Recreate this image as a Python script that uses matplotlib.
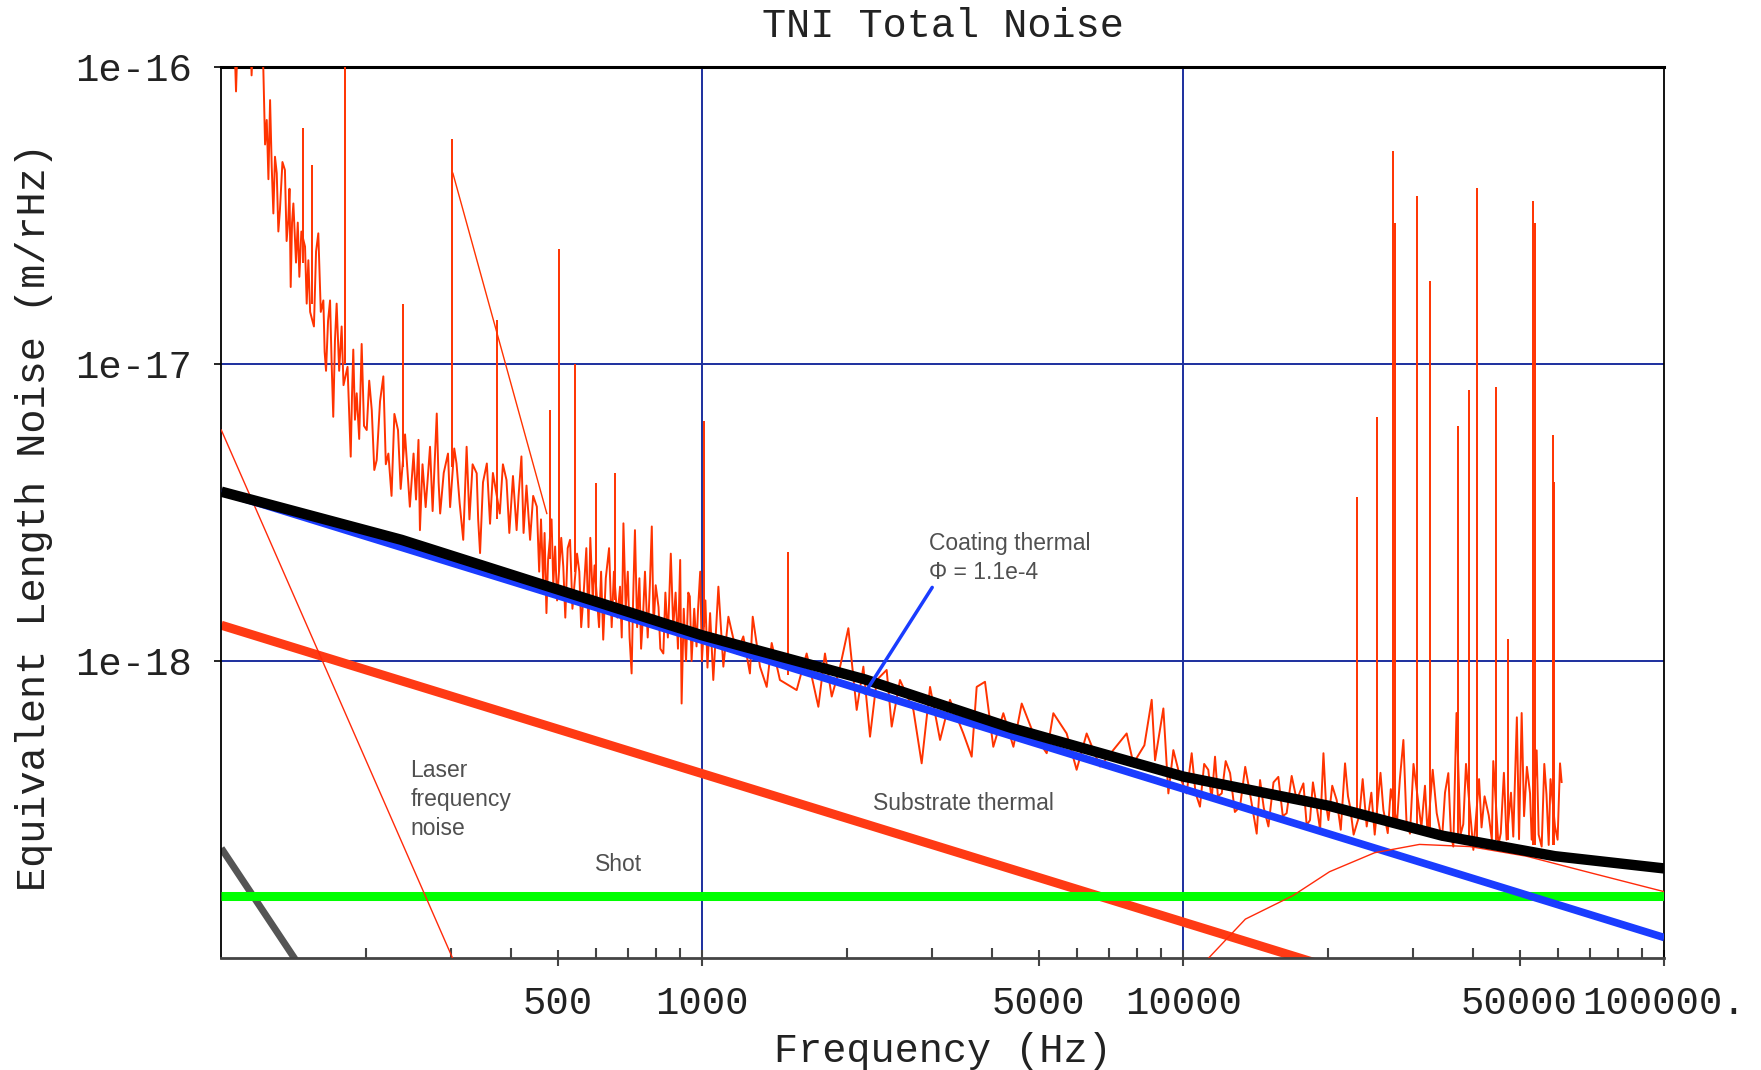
#!/usr/bin/env python

# import core packages
import matplotlib
matplotlib.use("Agg")
import matplotlib.pyplot as plt
from matplotlib.ticker import FixedLocator, FixedFormatter, NullFormatter, NullLocator

# measured spectrum, broadband part (Hz, m/rHz)
meas_freq = [106, 107.3, 108.5, 115, 115.6, 116.5, 121.3, 122.3, 123.3, 124.3,
             125.3, 126.3, 127.3, 128.3, 129.3, 130.4, 131.4, 132.4, 134, 135.6,
             136.7, 137.8, 138.6, 139.4, 140.3, 141.2, 143, 144.2, 145.3, 146.7,
             149.3, 150.5, 151.7, 153, 155.8, 157.4, 159.1, 161, 163.0, 164,
             165.1, 166.7, 168.3, 169.6, 170.9, 172.3, 173.7, 175.8, 177.9, 179.5,
             183, 185.8, 187, 188.1, 189.6, 191.2, 193.5, 195.8, 198, 200.6,
             203, 205.5, 208, 210.4, 213.8, 217.2, 219.8, 222.5, 225.9, 229,
             233, 236, 241, 246.6, 251, 254, 257, 258.8, 262, 266,
             271.6, 275, 280.5, 283, 285.1, 290, 296, 299, 305, 308.3,
             313, 318.4, 323.6, 328, 333, 339.6, 342, 345.1, 350, 356.5,
             362, 367, 379.3, 385, 391.7, 397, 404, 411.1, 415, 420.7,
             425, 431, 438.5, 445, 452.9, 458, 462, 466.7, 470, 474.2,
             478, 486, 490, 494.3, 499, 509, 514.0, 519, 525, 530.9,
             537, 549, 555, 560, 566.2, 574, 580, 585, 592, 597,
             610, 616, 622.3, 630, 640, 648, 655, 666, 674.5, 680,
             685.5, 693, 700, 706, 712.9, 718, 724.4, 732, 740, 746,
             753.4, 760, 770, 778, 785.2, 792, 800, 810.9, 818, 829.8,
             838, 848, 860, 870, 880, 890, 899.5, 905.7, 915, 925,
             935, 941.9, 950, 962, 972.8, 980, 990, 998, 1015, 1025,
             1038, 1054, 1080, 1106, 1133, 1179, 1217, 1256, 1273, 1318,
             1361, 1394, 1450, 1571, 1648, 1743, 1799, 1858, 1934, 2012,
             2094, 2162, 2232, 2305, 2417, 2476, 2576, 2747, 2858, 2975,
             3121, 3273, 3489, 3631, 3719, 3870, 4027, 4225, 4434, 4614,
             4878, 5200, 5368, 5721, 6001, 6296, 6711, 7625, 7873, 8300,
             8596, 8735, 9090, 9310, 9535, 9845, 10160, 10410, 10600, 10830,
             11050, 11270, 11450, 11640, 11800, 12020, 12250, 12510, 12800, 13120,
             13450, 13760, 14210, 14440, 14700, 15030, 15400, 15760, 16100, 16400,
             16800, 17210, 17770, 18050, 18340, 18600, 18940, 19250, 19560, 19800,
             20030, 20400, 20840, 21250, 21690, 22000, 22220, 22600, 23230, 23600,
             24060, 24600, 25000, 25700, 26060, 26610, 27000, 27800, 28200, 28680,
             29100, 29600, 30100, 31260, 31800, 32200, 33000, 33640, 34500, 35000,
             35560, 36000, 36420, 36980, 37700, 38200, 38700, 40090, 41200, 41690,
             42300, 43150, 43800, 44100, 45200, 45710, 46400, 47000, 48000, 48530,
             49370, 49890, 50520, 51100, 51800, 52590, 53000, 54280, 54800, 55600,
             56300, 56890, 57500, 58000, 59260, 60000, 60700, 61170]
meas_noise = [1.58e-16, 8.3e-17, 1.5e-16, 1.3e-16, 9.4e-17, 1.3e-16, 1.2e-16, 9.8e-17, 5.5e-17, 6.65e-17,
              4.2e-17, 7.76e-17, 4.62e-17, 3.22e-17, 5.0e-17, 4.40e-17, 2.8e-17, 3.31e-17, 4.8e-17, 4.51e-17,
              2.6e-17, 3.06e-17, 3.9e-17, 1.82e-17, 3.0e-17, 3.48e-17, 2.2e-17, 3.0e-17, 1.97e-17, 2.8e-17,
              2.49e-17, 1.6e-17, 2.24e-17, 1.5e-17, 1.34e-17, 2.4e-17, 2.76e-17, 1.5e-17, 1.64e-17, 1.1e-17,
              9.5e-18, 1.4e-17, 1.64e-17, 1.0e-17, 6.65e-18, 1.2e-17, 1.60e-17, 9.5e-18, 1.34e-17, 8.5e-18,
              9.8e-18, 4.88e-18, 8.0e-18, 1.12e-17, 6.5e-18, 7.98e-18, 5.6e-18, 1.17e-17, 6.2e-18, 6.0e-18,
              8.8e-18, 7.0e-18, 4.4e-18, 4.75e-18, 7.5e-18, 9.1e-18, 4.6e-18, 5.0e-18, 3.6e-18, 6.8e-18,
              6.0e-18, 3.8e-18, 5.8e-18, 3.31e-18, 5.0e-18, 3.5e-18, 5.56e-18, 2.76e-18, 4.6e-18, 3.3e-18,
              5.27e-18, 3.2e-18, 6.82e-18, 4.0e-18, 3.14e-18, 4.3e-18, 5.0e-18, 3.3e-18, 5.2e-18, 4.63e-18,
              3.4e-18, 2.56e-18, 5.27e-18, 3.0e-18, 4.6e-18, 4.29e-18, 3.0e-18, 2.31e-18, 4.0e-18, 4.63e-18,
              2.9e-18, 4.3e-18, 3.14e-18, 4.6e-18, 4.07e-18, 2.7e-18, 4.2e-18, 2.76e-18, 3.6e-18, 4.89e-18,
              2.7e-18, 3.9e-18, 2.56e-18, 3.6e-18, 3.31e-18, 2.0e-18, 3.0e-18, 1.87e-18, 2.7e-18, 1.45e-18,
              2.2e-18, 3.0e-18, 1.8e-18, 2.43e-18, 1.6e-18, 2.6e-18, 2.08e-18, 1.4e-18, 2.4e-18, 2.56e-18,
              1.5e-18, 2.3e-18, 2.0e-18, 1.3e-18, 1.65e-18, 2.4e-18, 1.3e-18, 2.6e-18, 1.6e-18, 2.1e-18,
              1.3e-18, 2.0e-18, 1.18e-18, 1.9e-18, 2.4e-18, 1.3e-18, 2.0e-18, 1.4e-18, 1.78e-18, 1.2e-18,
              2.91e-18, 1.5e-18, 2.0e-18, 1.2e-18, 9.08e-19, 1.6e-18, 2.76e-18, 1.3e-18, 1.9e-18, 1.1e-18,
              1.45e-18, 2.0e-18, 1.2e-18, 1.8e-18, 2.84e-18, 1.3e-18, 1.8e-18, 1.52e-18, 1.1e-18, 1.06e-18,
              1.7e-18, 1.2e-18, 2.3e-18, 1.3e-18, 1.7e-18, 1.1e-18, 2.19e-18, 7.19e-19, 1.5e-18, 1.0e-18,
              1.7e-18, 1.65e-18, 1.0e-18, 1.5e-18, 1.12e-18, 1.5e-18, 2.0e-18, 1.0e-18, 1.6e-18, 9.5e-19,
              1.45e-18, 8.63e-19, 1.78e-18, 9.57e-19, 1.41e-18, 1.06e-18, 1.21e-18, 9.08e-19, 1.41e-18, 9.57e-19,
              8.18e-19, 1.15e-18, 8.63e-19, 7.98e-19, 1.06e-18, 7.01e-19, 1.06e-18, 7.59e-19, 9.57e-19, 1.29e-18,
              6.84e-19, 9.57e-19, 5.56e-19, 8.63e-19, 9.33e-19, 6.01e-19, 8.63e-19, 6.84e-19, 4.52e-19, 8.18e-19,
              5.42e-19, 7.40e-19, 5.70e-19, 4.76e-19, 8.18e-19, 8.51e-19, 5.14e-19, 6.67e-19, 5.14e-19, 7.19e-19,
              5.70e-19, 4.89e-19, 6.67e-19, 5.70e-19, 4.30e-19, 5.70e-19, 4.41e-19, 5.70e-19, 4.52e-19, 5.2e-19,
              7.40e-19, 4.63e-19, 6.92e-19, 3.58e-19, 5.01e-19, 4.07e-19, 3.58e-19, 4.89e-19, 3.6e-19, 3.23e-19,
              4.5e-19, 4.30e-19, 3.4e-19, 4.76e-19, 3.5e-19, 3.58e-19, 4.6e-19, 4.19e-19, 3.1e-19, 3.23e-19,
              4.4e-19, 3.58e-19, 2.62e-19, 3.97e-19, 3.2e-19, 2.77e-19, 3.9e-19, 4.07e-19, 3.0e-19, 3.07e-19,
              4.1e-19, 3.40e-19, 3.87e-19, 2.8e-19, 2.91e-19, 3.9e-19, 3.23e-19, 2.7e-19, 4.89e-19, 3.3e-19,
              2.91e-19, 3.8e-19, 3.40e-19, 2.7e-19, 4.52e-19, 3.5e-19, 3.23e-19, 2.6e-19, 3.02e-19, 4.0e-19,
              2.77e-19, 3.6e-19, 2.6e-19, 4.2e-19, 3.15e-19, 2.63e-19, 3.7e-19, 2.82e-19, 4.0e-19, 5.42e-19,
              2.9e-19, 2.62e-19, 4.5e-19, 2.75e-19, 3.8e-19, 2.6e-19, 4.3e-19, 3.07e-19, 2.5e-19, 3.6e-19,
              4.19e-19, 2.6e-19, 2.37e-19, 6.68e-19, 2.6e-19, 2.82e-19, 4.5e-19, 2.31e-19, 4.0e-19, 2.75e-19,
              3.5e-19, 3.02e-19, 2.5e-19, 4.6e-19, 2.4e-19, 2.63e-19, 4.2e-19, 2.5e-19, 3.6e-19, 2.56e-19,
              6.46e-19, 2.51e-19, 6.68e-19, 3.0e-19, 4.4e-19, 3.58e-19, 2.5e-19, 5.0e-19, 2.6e-19, 2.37e-19,
              4.5e-19, 3.55e-19, 2.4e-19, 4.0e-19, 2.77e-19, 2.5e-19, 4.52e-19, 3.91e-19]

# narrow lines in the measured spectrum
line_freq = [148.1, 154.1, 180.7, 238.4, 301.3, 373.6, 482.4, 504.5, 543.3, 602.6,
             659.2, 1007, 1510, 22940, 25320, 27340, 27600, 30570, 32580, 37310,
             39260, 40740, 44620, 47400, 53420, 53900, 58610, 59100]
line_top = [6.24e-17, 4.69e-17, 2e-16, 1.6e-17, 5.75e-17, 1.41e-17, 7.0e-18, 2.44e-17, 1.0e-17, 3.97e-18,
            4.29e-18, 6.46e-18, 2.33e-18, 3.57e-18, 6.65e-18, 5.21e-17, 3.0e-17, 3.69e-17, 1.9e-17, 6.21e-18,
            8.18e-18, 3.93e-17, 8.39e-18, 1.19e-18, 3.56e-17, 3.0e-17, 5.78e-18, 4.0e-18]
line_base = [2.2e-17, 1.6e-17, 1.0e-17, 4.5e-18, 4.5e-18, 3.0e-18, 2.2e-18, 2.0e-18, 2.0e-18, 1.5e-18,
             1.6e-18, 1.3e-18, 9e-19, 3.1e-19, 2.9e-19, 2.8e-19, 2.8e-19, 2.7e-19, 2.7e-19, 2.6e-19,
             2.5e-19, 2.5e-19, 2.5e-19, 2.5e-19, 2.4e-19, 2.4e-19, 2.4e-19, 2.4e-19]

# stray straight segment in the measured trace
stray_freq = [303, 475]
stray_noise = [4.4e-17, 3.14e-18]

# model curves
total_freq = [100, 237, 1000, 2178, 4375, 10000, 20100, 34500, 59200, 100000]
total_noise = [3.72e-18, 2.56e-18, 1.22e-18, 8.67e-19, 5.96e-19, 4.08e-19, 3.25e-19, 2.58e-19, 2.20e-19, 2.0e-19]
coating_freq = [100, 100000]
coating_noise = [3.72e-18, 1.17e-19]
substrate_freq = [100, 100000]
substrate_noise = [1.32e-18, 4.17e-20]
shot_freq = [100, 100000]
shot_noise = [1.615e-19, 1.615e-19]
laser_freq = [100, 400]
laser_noise = [6.0e-18, 3.55e-20]
seismic_freq = [100, 200]
seismic_noise = [2.34e-19, 4.32e-20]
bump_freq = [10960, 11300, 13460, 16900, 20140, 25000, 30970, 39450, 51640, 71450, 100000]
bump_noise = [9.5e-20, 1.0e-19, 1.35e-19, 1.62e-19, 1.95e-19, 2.26e-19, 2.41e-19, 2.37e-19, 2.20e-19, 1.92e-19, 1.67e-19]

# axis ticks and grid
xmajor = [500, 1000, 5000, 10000, 50000, 100000]
xmajor_labels = ['500', '1000', '5000', '10000', '50000', '100000.']
xminor = [200, 300, 400, 600, 700, 800, 900,
          2000, 3000, 4000, 6000, 7000, 8000, 9000,
          20000, 30000, 40000, 60000, 70000, 80000, 90000]
ymajor = [1e-18, 1e-17, 1e-16]
ymajor_labels = ['1e-18', '1e-17', '1e-16']
xgrid = [1000, 10000]
ygrid = [1e-18, 1e-17]

if __name__ == "__main__":
    plt.rcParams['font.family'] = ['Liberation Mono', 'DejaVu Sans']
    note_font = dict(family=['Liberation Sans', 'DejaVu Sans'], fontsize=16.5, color='#505050')

    fig = plt.figure(figsize=(17.61, 10.70), dpi=100)
    ax = fig.add_axes([0.12567, 0.10486, 0.81942, 0.83215])
    ax.set_xscale('log')
    ax.set_yscale('log')

    # grid
    for g in xgrid:
        ax.axvline(g, color='#1c2f9e', lw=1.4, zorder=1)
    for g in ygrid:
        ax.axhline(g, color='#1c2f9e', lw=1.4, zorder=1)

    # noise budget terms
    ax.plot(substrate_freq, substrate_noise, color='#ff3a14', lw=6.5, solid_capstyle='butt', zorder=2)
    ax.plot(seismic_freq, seismic_noise, color='#555555', lw=5, solid_capstyle='butt', zorder=2)
    ax.plot(shot_freq, shot_noise, color='#00ff00', lw=6.5, solid_capstyle='butt', zorder=3)
    ax.plot(laser_freq, laser_noise, color='#ff2a0a', lw=1.0, zorder=3)

    # measured spectrum
    ax.plot(meas_freq, meas_noise, color='#ff3300', lw=1.4, zorder=4)
    ax.vlines(line_freq, line_base, line_top, color='#ff3300', lw=1.4, zorder=4)
    ax.plot(stray_freq, stray_noise, color='#ff3300', lw=1.0, zorder=4)

    ax.plot(coating_freq, coating_noise, color='#1a3cff', lw=5.5, solid_capstyle='butt', zorder=5)
    ax.plot(bump_freq, bump_noise, color='#ff2a0a', lw=1.0, zorder=5)
    ax.plot(total_freq, total_noise, color='black', lw=7.5, solid_capstyle='butt', zorder=6)

    # annotations
    ax.annotate('', xy=(2178, 7.8e-19), xytext=(3006, 1.77e-18),
                arrowprops=dict(arrowstyle='-', color='#1a3cff', lw=2.5, shrinkA=0, shrinkB=0), zorder=7)
    ax.text(2958, 2.49e-18, 'Coating thermal', ha='left', va='center', **note_font)
    ax.text(2958, 1.98e-18, '\u03a6 = 1.1e-4', ha='left', va='center', **note_font)
    ax.text(247, 3.41e-19, 'Laser\nfrequency\nnoise', ha='left', va='center', linespacing=1.35, **note_font)
    ax.text(599, 2.06e-19, 'Shot', ha='left', va='center', **note_font)
    ax.text(2259, 3.30e-19, 'Substrate thermal', ha='left', va='center', **note_font)

    # axes
    ax.set_xlim(100, 100000)
    ax.set_ylim(1e-19, 1e-16)
    ax.xaxis.set_major_locator(FixedLocator(xmajor))
    ax.xaxis.set_major_formatter(FixedFormatter(xmajor_labels))
    ax.xaxis.set_minor_locator(FixedLocator(xminor))
    ax.xaxis.set_minor_formatter(NullFormatter())
    ax.yaxis.set_major_locator(FixedLocator(ymajor))
    ax.yaxis.set_major_formatter(FixedFormatter(ymajor_labels))
    ax.yaxis.set_minor_locator(NullLocator())
    ax.tick_params(axis='x', which='major', direction='inout', length=12, width=1.5,
                   color='#444444', pad=14, labelsize=28, labelcolor='#222222')
    ax.tick_params(axis='x', which='minor', direction='in', length=7, width=1.5, color='#444444')
    ax.tick_params(axis='y', which='major', direction='out', length=5, width=1.2,
                   pad=16, labelsize=28, labelcolor='#222222')

    for side in ['left', 'right']:
        ax.spines[side].set_linewidth(1.3)
        ax.spines[side].set_color('black')
    ax.spines['top'].set_linewidth(2.2)
    ax.spines['bottom'].set_linewidth(2.0)
    ax.spines['bottom'].set_color('#444444')

    ax.set_xlabel('Frequency (Hz)', fontsize=29, color='#222222')
    ax.xaxis.label.set_va('center')
    ax.xaxis.set_label_coords(0.5, -0.1045)
    ax.set_ylabel('Equivalent Length Noise (m/rHz)', fontsize=29, color='#222222')
    ax.yaxis.label.set_va('center')
    ax.yaxis.set_label_coords(-0.1298, 0.4955)
    ax.text(0.5, 1.047, 'TNI Total Noise', transform=ax.transAxes, ha='center', va='center',
            fontsize=29, color='#222222')

    fig.savefig('out.png', dpi=100)
    plt.close(fig)
